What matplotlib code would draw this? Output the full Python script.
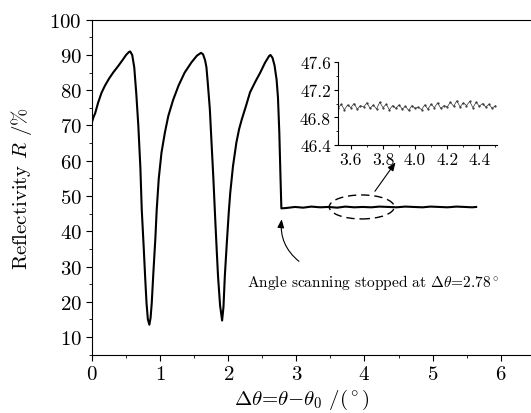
import matplotlib
matplotlib.use("Agg")
import matplotlib.pyplot as plt
from matplotlib.patches import Ellipse
from matplotlib.ticker import MultipleLocator

plt.rcParams['font.family'] = 'serif'
plt.rcParams['font.serif'] = ['cmr10']
plt.rcParams['mathtext.fontset'] = 'cm'
plt.rcParams['axes.formatter.use_mathtext'] = True

# main curve
main_x = [0.00, 0.02, 0.045, 0.09, 0.14, 0.19, 0.25, 0.31, 0.386, 0.45, 0.50, 0.54, 0.56,
          0.59, 0.62, 0.65, 0.68, 0.71, 0.73, 0.76, 0.78, 0.80, 0.82, 0.842, 0.86, 0.877,
          0.90, 0.93, 0.95, 0.98, 1.02, 1.07, 1.12, 1.19, 1.27, 1.36, 1.46, 1.54, 1.60,
          1.63, 1.66, 1.68, 1.70, 1.73, 1.755, 1.78, 1.81, 1.83, 1.85, 1.88, 1.91, 1.93,
          1.95, 1.98, 2.01, 2.03, 2.07, 2.12, 2.16, 2.20, 2.26, 2.32, 2.40, 2.47, 2.54,
          2.60, 2.62, 2.65, 2.68, 2.71, 2.73, 2.75, 2.765, 2.78,
          2.85, 2.98, 3.10, 3.22, 3.35, 3.47, 3.60, 3.72, 3.85, 3.97, 4.10, 4.22, 4.35,
          4.47, 4.60, 4.72, 4.85, 4.97, 5.10, 5.22, 5.35, 5.47, 5.58, 5.64]
main_y = [71.0, 72.3, 73.4, 76.5, 79.3, 81.3, 83.3, 85.0, 86.9, 88.6, 90.0, 90.8, 91.0,
          90.0, 86.5, 79.0, 69.9, 58.0, 46.2, 35.0, 27.0, 19.7, 15.0, 13.5, 15.5, 19.7,
          28.0, 38.0, 46.2, 55.0, 62.3, 68.0, 72.7, 77.2, 81.3, 85.0, 87.9, 89.8, 90.6,
          90.2, 88.5, 86.5, 82.0, 74.6, 65.0, 55.7, 43.0, 35.0, 27.3, 19.0, 14.7, 18.5,
          27.3, 37.0, 46.0, 51.0, 58.5, 65.2, 69.0, 71.8, 75.5, 79.4, 82.5, 85.0, 87.8,
          89.7, 90.0, 89.2, 87.0, 83.0, 78.0, 68.0, 57.0, 46.5,
          46.6, 46.9, 46.7, 47.0, 46.8, 46.9, 46.7, 47.0, 46.8, 46.9, 46.8, 47.0, 46.9,
          46.8, 47.0, 46.9, 46.8, 47.0, 46.9, 46.8, 47.0, 46.9, 46.8, 46.9]

# inset (zoom on the flat part)
inset_x = [3.52, 3.54, 3.56, 3.58, 3.60, 3.62, 3.64, 3.66, 3.68, 3.70,
           3.72, 3.74, 3.76, 3.78, 3.80, 3.82, 3.84, 3.86, 3.88, 3.90,
           3.92, 3.94, 3.96, 3.98, 4.00, 4.02, 4.04, 4.06, 4.08, 4.10,
           4.12, 4.14, 4.16, 4.18, 4.20, 4.22, 4.24, 4.26, 4.28, 4.30,
           4.32, 4.34, 4.36, 4.38, 4.40, 4.42, 4.44, 4.46, 4.48, 4.50]
inset_y = [46.93, 46.99, 46.91, 46.98, 46.94, 47.00, 46.92, 46.97, 46.95, 47.01,
           46.93, 46.98, 46.92, 47.02, 46.94, 46.99, 46.91, 46.97, 46.93, 46.98,
           46.92, 46.96, 46.90, 46.97, 46.93, 46.95, 46.91, 46.98, 46.92, 46.99,
           46.94, 47.01, 46.93, 46.97, 46.95, 47.02, 46.96, 47.04, 46.95, 47.01,
           46.97, 47.03, 46.94, 47.02, 46.96, 47.00, 46.95, 46.99, 46.93, 46.97]

x_ticks = [0, 1, 2, 3, 4, 5, 6]
y_ticks = [10, 20, 30, 40, 50, 60, 70, 80, 90, 100]
inset_xticks = [3.6, 3.8, 4.0, 4.2, 4.4]
inset_yticks = [46.4, 46.8, 47.2, 47.6]

fig = plt.figure(figsize=(5.31, 4.14), dpi=100)
ax = fig.add_axes([0.1733, 0.1408, 0.8337, 0.8092])
ax.plot(main_x, main_y, color='black', lw=1.5)
ax.set_xlim(0, 6.5)
ax.set_ylim(5, 100)
ax.set_xticks(x_ticks)
ax.set_yticks(y_ticks)
ax.xaxis.set_minor_locator(MultipleLocator(0.5))
ax.yaxis.set_minor_locator(MultipleLocator(5))
ax.tick_params(which='both', direction='out', top=False, right=False, labelsize=15)
ax.tick_params(which='major', length=4)
ax.tick_params(which='minor', length=2.5)
ax.spines['right'].set_visible(False)
ax.set_ylabel(r'Reflectivity $R$ /%', fontsize=15)
ax.set_xlabel(r'$\Delta\theta$=$\theta$$-$$\theta_0$ /($^\circ$)', fontsize=15)
ax.yaxis.set_label_coords(-0.13, 0.5)
ax.xaxis.set_label_coords(0.474, -0.096)

# dashed ellipse marking zoomed region
ax.add_patch(Ellipse((3.96, 46.9), 0.955, 6.8, fill=False, ls=(0, (6, 3.5)), lw=1.0, color='black'))
ax.annotate('', xy=(4.48, 60.2), xytext=(4.13, 50.7),
            arrowprops=dict(arrowstyle='-|>,head_length=0.5,head_width=0.2', lw=0.8, color='black'))
ax.annotate('', xy=(2.79, 44.2), xytext=(3.07, 31.0),
            arrowprops=dict(arrowstyle='-|>,head_length=0.5,head_width=0.2', lw=0.8, color='black',
                            connectionstyle='arc3,rad=-0.3'))
ax.text(2.28, 25.8, r'Angle scanning stopped at $\Delta\theta$=2.78$^\circ$', fontsize=11.1, va='center')

ins = fig.add_axes([0.6365, 0.6473, 0.2995, 0.2005])
ins.plot(inset_x, inset_y, color='#333333', lw=0.5, marker='.', ms=1.2)
ins.set_xlim(3.52, 4.51)
ins.set_ylim(46.4, 47.6)
ins.set_xticks(inset_xticks)
ins.set_yticks(inset_yticks)
ins.set_xticklabels(['3.6', '3.8', '4.0', '4.2', '4.4'])
ins.set_yticklabels(['46.4', '46.8', '47.2', '47.6'])
ins.xaxis.set_minor_locator(MultipleLocator(0.1))
ins.yaxis.set_minor_locator(MultipleLocator(0.2))
ins.tick_params(which='both', direction='out', top=False, right=False, labelsize=12.5, pad=2)
ins.tick_params(which='major', length=3)
ins.tick_params(which='minor', length=1.5)
ins.spines['right'].set_visible(False)
ins.spines['top'].set_visible(False)
ins.patch.set_alpha(0)

fig.savefig('out.png', dpi=100)
